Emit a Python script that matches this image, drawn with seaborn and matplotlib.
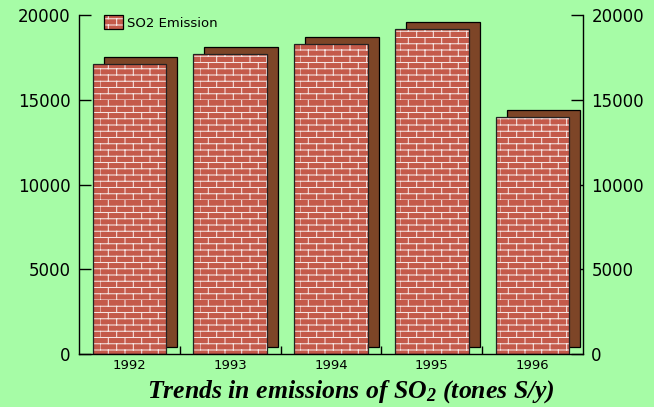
import warnings
import numpy as np
import pandas as pd
import matplotlib
matplotlib.use("Agg")
import matplotlib.pyplot as plt
import matplotlib.hatch as mhatch
import matplotlib.patches as mpatches
import matplotlib.patheffects as pe
import matplotlib.colors as mcolors
from matplotlib.path import Path
from matplotlib.ticker import FixedLocator
import seaborn as sns

# ---- data ----
years = ["1992", "1993", "1994", "1995", "1996"]
emissions = [17100, 17700, 18300, 19200, 14000]
series_label = "SO2 Emission"
y_ticks = [0, 5000, 10000, 15000, 20000]
title_text = "Trends in emissions of SO$_2$ (tones S/y)"

BG = "#a6fca6"
BRICK = "#c45a4a"
SHADOW = "#7d4527"


# ---- brick hatch pattern (replaces the '-' hatch) ----
class BrickHatch(mhatch.HatchPatternBase):
    rows = 16
    cols = 6

    def __init__(self, hatch, density):
        n = hatch.count('-')
        self.num_vertices = (self.rows * 2 + self.rows * self.cols * 2) if n else 0

    def set_vertices_and_codes(self, vertices, codes):
        k = 0
        for i in range(self.rows):
            y = i / self.rows
            vertices[k] = (0.0, y); codes[k] = Path.MOVETO; k += 1
            vertices[k] = (1.0, y); codes[k] = Path.LINETO; k += 1
        for i in range(self.rows):
            y0 = i / self.rows
            y1 = (i + 1) / self.rows
            shift = 0.5 * (i % 2)
            for j in range(self.cols):
                x = ((j + shift) / self.cols) % 1.0
                vertices[k] = (x, y0); codes[k] = Path.MOVETO; k += 1
                vertices[k] = (x, y1); codes[k] = Path.LINETO; k += 1


mhatch._hatch_types[0] = BrickHatch

plt.rcParams["hatch.linewidth"] = 0.75
plt.rcParams["font.family"] = ["DejaVu Sans"]
plt.rcParams["mathtext.fontset"] = "custom"
plt.rcParams["mathtext.rm"] = "Liberation Serif:italic:bold"
plt.rcParams["mathtext.it"] = "Liberation Serif:italic:bold"
plt.rcParams["mathtext.bf"] = "Liberation Serif:italic:bold"

df = pd.DataFrame({"year": years, "emission": emissions})

fig = plt.figure(figsize=(6.54, 4.07), dpi=100, facecolor=BG)
ax = fig.add_axes([79 / 654, 53 / 407, (583 - 79) / 654, (354 - 15) / 407])
ax.set_facecolor(BG)

sns.barplot(data=df, x="year", y="emission", color=BRICK, width=0.73,
            edgecolor="black", linewidth=0.9, hatch="-", saturation=1,
            ax=ax, zorder=2)

white = mcolors.to_rgba("white", 0.85)
for p in ax.patches:
    p.set_facecolor(BRICK)
    p.set_edgecolor("#222222")
    p._hatch_color = white
    p.set_path_effects([
        pe.SimplePatchShadow(offset=(11 * 0.72, 7 * 0.72), shadow_rgbFace=SHADOW,
                             alpha=1.0, hatch=None, foreground="black",
                             linewidth=0.9),
        pe.Normal(),
    ])

ax.set_xlim(-0.5, len(years) - 0.5)
ax.set_ylim(0, 20000)
ax.set_yticks(y_ticks)
ax.set_yticklabels([str(v) for v in y_ticks])
ax.set_xlabel("")
ax.set_ylabel("")

for s in ["left", "right", "bottom"]:
    ax.spines[s].set_visible(True)
    ax.spines[s].set_color("black")
    ax.spines[s].set_linewidth(1.0)
ax.spines["top"].set_visible(False)

ax.tick_params(axis="y", which="major", direction="in", length=8.6, width=1,
               left=True, right=True, labelleft=True, labelright=True,
               labelsize=12, pad=6, colors="black")
ax.tick_params(axis="x", which="major", length=0, labelsize=9.5, pad=3.5)
ax.xaxis.set_minor_locator(FixedLocator([0.5, 1.5, 2.5, 3.5]))
ax.tick_params(axis="x", which="minor", direction="in", length=5.8, width=1,
               bottom=True)
ax.grid(False)

handle = mpatches.Patch(facecolor=BRICK, edgecolor="black", hatch="-",
                        linewidth=0.9, label=series_label)
handle._hatch_color = white
leg = ax.legend(handles=[handle], loc="upper left",
                bbox_to_anchor=((104 - 79) / 504, 1.0), frameon=False,
                fontsize=9.5, handlelength=1.45, handleheight=1.3,
                handletextpad=0.3, borderpad=0, borderaxespad=0)

fig.text(351 / 654, 9 / 407, title_text, ha="center", va="baseline",
         fontsize=18.5, fontfamily="Liberation Serif", fontweight="bold",
         fontstyle="italic", color="black")

fig.savefig("out.png", dpi=100, facecolor=BG)
